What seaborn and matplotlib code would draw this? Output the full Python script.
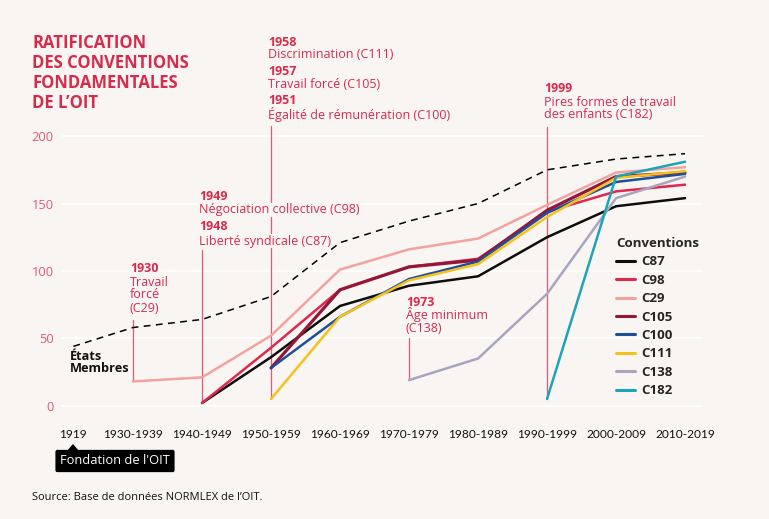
import numpy as np
import pandas as pd
import matplotlib
matplotlib.use("Agg")
import matplotlib.pyplot as plt
import seaborn as sns
from matplotlib.patches import Polygon

# ---------------- data ----------------
periods = ["1919", "1930-1939", "1940-1949", "1950-1959", "1960-1969",
           "1970-1979", "1980-1989", "1990-1999", "2000-2009", "2010-2019"]
nan = np.nan
member_states = [44, 58, 64, 81, 121, 137, 150, 175, 183, 187]
c87  = [nan, nan, 2, 36, 74, 89, 96, 125, 148, 154]
c98  = [nan, nan, 2, 43, 86, 103, 109, 144, 159, 164]
c29  = [nan, 18, 21, 52, 101, 116, 124, 149, 173, 177]
c105 = [nan, nan, nan, 28, 86, 103, 108, 145, 170, 173]
c100 = [nan, nan, nan, 28, 66, 94, 107, 143, 166, 172]
c111 = [nan, nan, nan, 5, 66, 93, 105, 140, 169, 174]
c138 = [nan, nan, nan, nan, nan, 19, 35, 83, 154, 170]
c182 = [nan, nan, nan, nan, nan, nan, nan, 5, 170, 181]
conv_names = ["C87", "C98", "C29", "C105", "C100", "C111", "C138", "C182"]
conv_values = [c87, c98, c29, c105, c100, c111, c138, c182]
conv_colors = ["#0d0d0d", "#e0284f", "#f2a29f", "#94173a", "#1d4f9a",
               "#f4c21b", "#a7a5c0", "#1ea4b8"]
yticks = [0, 50, 100, 150, 200]

# layout: horizontal slot of each period on the axis (1919 sits closer)
period_x = [0.135] + list(range(1, len(periods)))

W, H = 769, 519
BG = "#f9f5f2"
RED = "#d62b4d"
LRED = "#e15a74"

rows = []
for name, vals in zip(conv_names, conv_values):
    for i, v in enumerate(vals):
        if not np.isnan(v):
            rows.append({"pos": period_x[i], "value": v, "Conventions": name})
df = pd.DataFrame(rows)
states_df = pd.DataFrame({"pos": period_x, "value": member_states})

sns.set_theme(style="white")
plt.rcParams["font.family"] = ["Open Sans", "DejaVu Sans"]

fig = plt.figure(figsize=(W / 100, H / 100), dpi=100, facecolor=BG)
ax = fig.add_axes([62 / W, 1 - 410 / H, 641 / W, 288 / H])
ax.set_facecolor(BG)

# gridlines
for yv in yticks:
    ax.axhline(yv, color="white", lw=1.3, zorder=0)

sns.lineplot(data=states_df, x="pos", y="value", color="black", lw=1.1,
             ax=ax, zorder=2)
ax.lines[-1].set_linestyle((0, (4.5, 3.5)))

sizes = {n: (2.3 if n == "C105" else 1.8) for n in conv_names}
sns.lineplot(data=df, x="pos", y="value", hue="Conventions",
             hue_order=conv_names, palette=dict(zip(conv_names, conv_colors)),
             size="Conventions", sizes=sizes, size_order=conv_names,
             ax=ax, zorder=3)

ax.set_xlim(-0.029, 9.26)
ax.set_ylim(-3.2, 210.5)
ax.set_xticks(period_x)
ax.set_xticklabels(periods, fontsize=8.6, color="#111111",
                   family=["Lato", "DejaVu Sans"])
ax.set_yticks(yticks)
ax.set_yticklabels([str(t) for t in yticks], fontsize=9.3, color=LRED)
ax.tick_params(axis="x", length=0, pad=14)
ax.tick_params(axis="y", length=0, pad=6)
ax.set_xlabel("")
ax.set_ylabel("")
for s in ax.spines.values():
    s.set_visible(False)
ax.grid(False)

# legend
sns.move_legend(ax, "upper left", bbox_to_anchor=(616 / W, 1 - 237 / H),
                bbox_transform=fig.transFigure, frameon=False,
                title="Conventions", fontsize=9.5, title_fontsize=9.5,
                handlelength=1.45, handletextpad=0.5, labelspacing=0.41,
                borderpad=0, borderaxespad=0, alignment="left")
leg = ax.get_legend()
leg.get_title().set_fontweight("bold")
for t in leg.get_texts():
    t.set_fontweight("bold")
for h in leg.legend_handles:
    h.set_linewidth(2.2)

# annotation vertical lines (x = period slot, from start of series up)
ann_lines = [(period_x[1], c29[1], 63.5),
             (period_x[2], min(c87[2], c98[2]), 115.5),
             (period_x[3], min(c100[3], c105[3], c111[3]), 207.5),
             (period_x[5], c138[5], 50.3),
             (period_x[7], c182[7], 206.8)]
for x, y0, y1 in ann_lines:
    ax.plot([x, x], [y0, y1], color=LRED, lw=0.9, zorder=1, clip_on=False)


def ftext(px, py, s, **kw):
    kw.setdefault("va", "center")
    kw.setdefault("ha", "left")
    return fig.text(px / W, 1 - py / H, s, **kw)


# title
for py, s in zip([43, 63, 83, 103],
                 ["RATIFICATION", "DES CONVENTIONS", "FONDAMENTALES", "DE L\u2019OIT"]):
    ftext(32, py, s, color=RED, fontsize=12, fontweight="bold")

AFS = 9.0
mask = dict(facecolor=BG, edgecolor="none", pad=0.6)
annots = [
    (268, 42, "1958", True), (268, 55, "Discrimination (C111)", False),
    (268, 72, "1957", True), (268, 85, "Travail forcé (C105)", False),
    (268, 101, "1951", True), (268, 115, "Égalité de rémunération (C100)", False),
    (199, 196, "1949", True), (199, 210, "Négociation collective (C98)", False),
    (199, 227, "1948", True), (199, 241, "Liberté syndicale (C87)", False),
    (130, 269, "1930", True), (130, 282, "Travail", False),
    (130, 295, "forcé", False), (130, 309, "(C29)", False),
    (406, 302, "1973", True), (406, 315, "Âge minimum", False),
    (406, 329, "(C138)", False),
    (544, 88, "1999", True), (544, 102, "Pires formes de travail", False),
    (544, 115, "des enfants (C182)", False),
]
for px, py, s, bold in annots:
    kw = {}
    if px == 199 and not bold:
        kw["bbox"] = mask
    ftext(px, py, s, color=RED, fontsize=AFS,
          fontweight="bold" if bold else "normal", zorder=5, **kw)

ftext(70, 356, "États", color="#111111", fontsize=9.2, fontweight="bold")
ftext(70, 369, "Membres", color="#111111", fontsize=9.2, fontweight="bold")

# "Fondation de l'OIT" tag
ftext(115, 461, "Fondation de l'OIT", ha="center", color="white", fontsize=9.3,
      bbox=dict(boxstyle="round,pad=0.36,rounding_size=0.15", facecolor="black",
                edgecolor="none"))
tri = Polygon([(67 / W, 1 - 451 / H), (79 / W, 1 - 451 / H), (73 / W, 1 - 444 / H)],
              closed=True, transform=fig.transFigure, facecolor="black",
              edgecolor="none")
fig.patches.append(tri)

ftext(32, 498, "Source: Base de données NORMLEX de l\u2019OIT.", color="#111111",
      fontsize=8.0)

fig.savefig("out.png", dpi=100, facecolor=BG)
